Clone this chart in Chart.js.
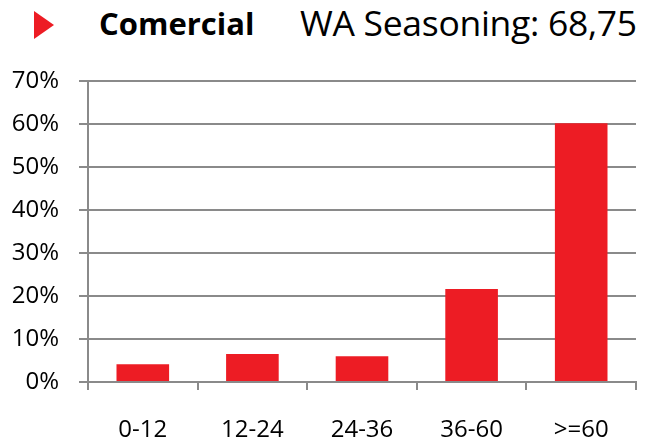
<!DOCTYPE html>
<html lang="es">
<head>
    <meta charset="UTF-8">
    <title>Comercial - WA Seasoning</title>
    <script src="https://cdn.jsdelivr.net/npm/chart.js"></script>
    <style>
        html, body { margin: 0; padding: 0; background: #fff; }
        body { width: 650px; height: 441px; position: relative; overflow: hidden; font-family: 'Open Sans', sans-serif; }
        .marker {
            position: absolute; left: 34px; top: 11px; width: 20px; height: 28px;
            background: #ED1C24; clip-path: polygon(0 0, 100% 50%, 0 100%);
        }
        .title {
            position: absolute; left: 99px; top: 1px; font-size: 31px; font-weight: 700; color: #000; line-height: 44px;
        }
        .wa {
            position: absolute; left: 300px; top: 0px; font-size: 35.5px; color: #000; line-height: 44px; letter-spacing: -0.3px;
        }
        #chart { position: absolute; left: 0; top: 0; }
    </style>
</head>
<body>
    <div class="marker"></div>
    <div class="title">Comercial</div>
    <div class="wa">WA Seasoning: 68,75</div>
    <canvas id="chart" width="650" height="441"></canvas>

    <script>
        // Seasoning buckets (months) and share of portfolio, in %
        const categories = ['0-12', '12-24', '24-36', '36-60', '>=60'];
        const shares = [4.1, 6.5, 6.0, 21.6, 60.2];
        const yTicks = [0, 10, 20, 30, 40, 50, 60, 70];

        const gridGray = '#8a8a8a';
        const tickFont = { family: 'Open Sans', size: 24 };

        new Chart(document.getElementById('chart'), {
            type: 'bar',
            data: {
                labels: categories,
                datasets: [{
                    data: shares,
                    backgroundColor: '#ED1C24',
                    borderWidth: 0,
                    categoryPercentage: 1,
                    barPercentage: 0.48
                }]
            },
            options: {
                responsive: false,
                animation: false,
                layout: { padding: { top: 81, right: 14, left: 6, bottom: 0 } },
                plugins: { legend: { display: false }, tooltip: { enabled: false } },
                scales: {
                    x: {
                        grid: { drawOnChartArea: false, drawTicks: true, tickLength: 8, color: gridGray, lineWidth: 2, offset: true },
                        border: { display: true, color: gridGray, width: 2 },
                        ticks: { color: '#000', font: tickFont, padding: 26, maxRotation: 0 },
                        afterFit: s => { s.height = 59; }
                    },
                    y: {
                        min: 0,
                        max: 70,
                        afterBuildTicks: s => { s.ticks = yTicks.map(v => ({ value: v })); },
                        grid: { color: gridGray, lineWidth: 2, tickLength: 9 },
                        border: { display: true, color: gridGray, width: 2 },
                        ticks: { color: '#000', font: tickFont, padding: 20, callback: v => v + '%' },
                        afterFit: s => { s.width = 82; }
                    }
                }
            }
        });
    </script>
</body>
</html>
